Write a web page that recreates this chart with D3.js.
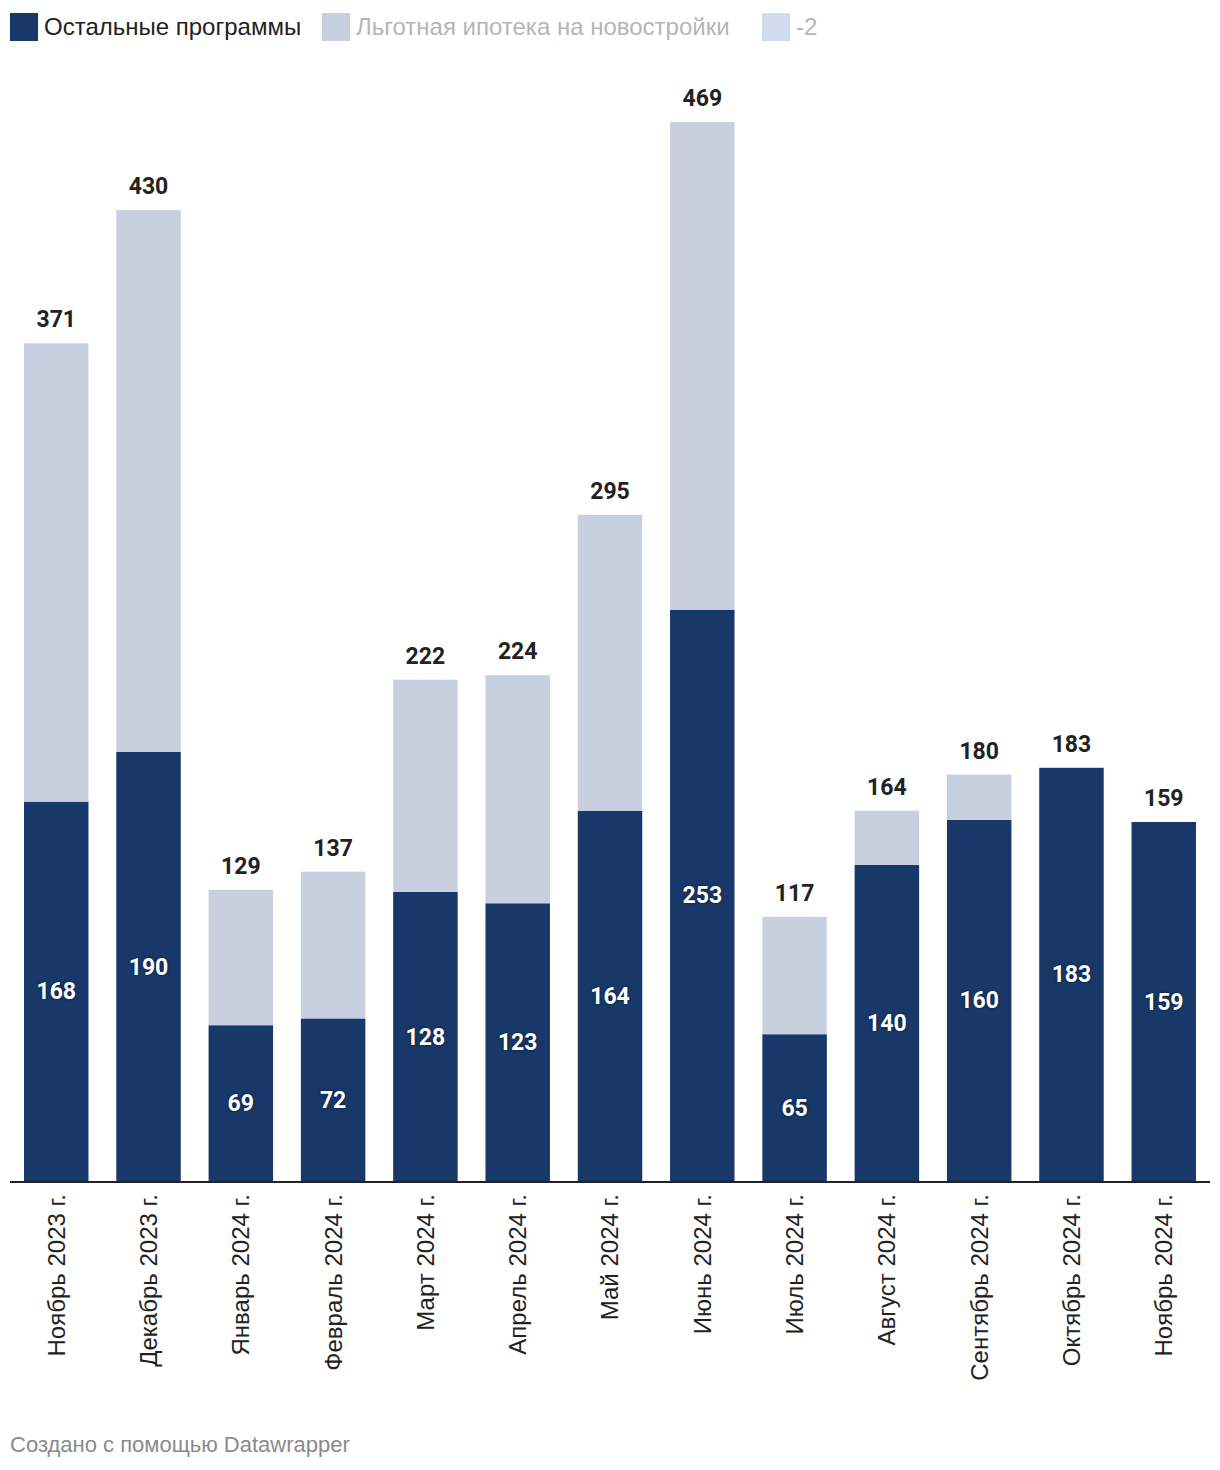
<!DOCTYPE html>
<html><head><meta charset="utf-8">
<script src="https://cdn.jsdelivr.net/npm/d3@7"></script>
<style>
body{margin:0;background:#fff;font-family:"Liberation Sans",Arial,sans-serif;}
</style></head>
<body>
<svg id="chart" width="1220" height="1470"></svg>
<script>
const categories = ["Ноябрь 2023 г.","Декабрь 2023 г.","Январь 2024 г.","Февраль 2024 г.","Март 2024 г.","Апрель 2024 г.","Май 2024 г.","Июнь 2024 г.","Июль 2024 г.","Август 2024 г.","Сентябрь 2024 г.","Октябрь 2024 г.","Ноябрь 2024 г."];
const otherPrograms = [168,190,69,72,128,123,164,253,65,140,160,183,159];
const totals = [371,430,129,137,222,224,295,469,117,164,180,183,159];
const preferential = totals.map((t,i)=>t-otherPrograms[i]);
const minus2 = [0,0,0,0,0,0,0,0,0,0,0,0,0];
const seriesNames = ["Остальные программы","Льготная ипотека на новостройки","-2"];
const seriesColors = ["#173868","#c8d0e0","#d3dbef"];
const legendTextColors = ["#222","#b5b5b5","#b5b5b5"];

const labelFont = "'Liberation Sans', Arial, sans-serif";
const numFont = "Roboto, 'Noto Sans', sans-serif";

const svg = d3.select("#chart");
const baseY = 1181;
const x2 = d3.scaleBand().domain(categories).range([24,1196]).paddingInner(1-64.5/92.33).paddingOuter(0);
const y = d3.scaleLinear().domain([0,469]).range([baseY,122]);

const rows = categories.map((c,i)=>({cat:c, s0:otherPrograms[i], s1:preferential[i], s2:minus2[i]}));
const stacked = d3.stack().keys(["s0","s1","s2"])(rows);

const g = svg.append("g");
stacked.forEach((layer,li)=>{
  g.selectAll(null).data(layer).enter().append("rect")
    .attr("x",d=>x2(d.data.cat))
    .attr("width",x2.bandwidth())
    .attr("y",d=>y(d[1]))
    .attr("height",d=>Math.max(0,y(d[0])-y(d[1])))
    .attr("fill",seriesColors[li]);
});

svg.append("line").attr("x1",10).attr("x2",1210).attr("y1",baseY+1).attr("y2",baseY+1)
  .attr("stroke","#222").attr("stroke-width",2);

svg.selectAll(null).data(categories).enter().append("text")
  .attr("x",c=>x2(c)+x2.bandwidth()/2)
  .attr("y",(c,i)=>y(totals[i])-16)
  .attr("text-anchor","middle")
  .style("font-family",numFont)
  .attr("font-size",23).attr("font-weight",700).attr("fill","#222")
  .text((c,i)=>totals[i]);

svg.selectAll(null).data(categories).enter().append("text")
  .attr("x",c=>x2(c)+x2.bandwidth()/2)
  .attr("y",(c,i)=>(y(otherPrograms[i])+y(0))/2)
  .attr("dy","0.35em")
  .attr("text-anchor","middle")
  .style("font-family",numFont)
  .attr("font-size",23).attr("font-weight",700).attr("fill","#fff")
  .style("text-shadow","0 0 3px rgba(0,0,0,0.5)")
  .text((c,i)=>otherPrograms[i]);

const xAxis = d3.axisBottom(x2).tickSize(0).tickPadding(0);
const ax = svg.append("g").attr("transform",`translate(0,${baseY})`).call(xAxis);
ax.select(".domain").remove();
ax.selectAll("text")
  .attr("transform","rotate(-90)")
  .attr("x",-13).attr("y",0).attr("dy","0.35em")
  .attr("text-anchor","end")
  .attr("font-size",24).attr("fill","#222")
  .style("font-family",labelFont);

const legendX = [10,322,762];
seriesNames.forEach((n,i)=>{
  svg.append("rect").attr("x",legendX[i]).attr("y",13).attr("width",28).attr("height",28).attr("fill",seriesColors[i]);
  svg.append("text").attr("x",legendX[i]+34).attr("y",35).attr("font-size",24)
    .style("font-family",labelFont)
    .attr("fill",legendTextColors[i]).text(n);
});

svg.append("text").attr("x",10).attr("y",1452).attr("font-size",22).attr("fill","#8a8a8a")
  .style("font-family",labelFont)
  .text("Создано с помощью Datawrapper");
</script>
</body></html>
